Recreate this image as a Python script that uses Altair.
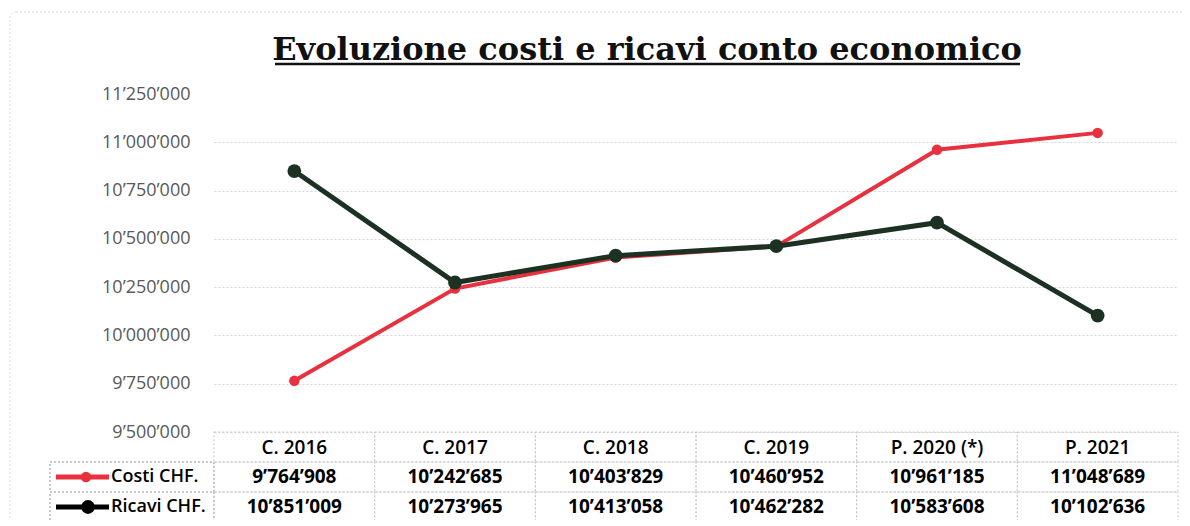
import altair as alt
import pandas as pd

# ---- data ----
categories = ["C. 2016", "C. 2017", "C. 2018", "C. 2019", "P. 2020 (*)", "P. 2021"]
costi = [9764908, 10242685, 10403829, 10460952, 10961185, 11048689]
ricavi = [10851009, 10273965, 10413058, 10462282, 10583608, 10102636]
series_names = ["Costi CHF.", "Ricavi CHF."]
y_ticks = [9500000, 9750000, 10000000, 10250000, 10500000, 10750000, 11000000, 11250000]
title_text = "Evoluzione costi e ricavi conto economico"

RED = "#e8313e"
DARK = "#1d3123"
W, H = 964, 338


def fmt(v):
    return f"{v:,}".replace(",", "\u2019")


df = pd.DataFrame({
    "cat": categories,
    "costi": costi,
    "ricavi": ricavi,
    "costi_lbl": [fmt(v) for v in costi],
    "ricavi_lbl": [fmt(v) for v in ricavi],
})

xenc = alt.X("cat:N", sort=categories,
             scale=alt.Scale(type="band", domain=categories, paddingInner=0, paddingOuter=0),
             axis=None)
yscale = alt.Scale(domain=[9500000, 11250000], zero=False, nice=False)

base = alt.Chart(df)

grid_axis = alt.Axis(
    values=y_ticks,
    labelExpr="replace(format(datum.value, ','), regexp(',', 'g'), '\u2019')",
    domain=False, ticks=False, title=None,
    labelFont="Open Sans", labelFontSize=18, labelColor="#595959",
    labelPadding=24,
    gridColor={"condition": {"test": "datum.value >= 11250000", "value": "transparent"},
               "value": "#d4d4d4"},
    gridDash=[2, 2], gridWidth=1,
)

costi_line = base.mark_line(color=RED, strokeWidth=4).encode(
    x=xenc, y=alt.Y("costi:Q", scale=yscale, axis=grid_axis))
costi_pts = base.mark_circle(color=RED, size=110, opacity=1).encode(
    x=xenc, y=alt.Y("costi:Q", scale=yscale))
ricavi_line = base.mark_line(color=DARK, strokeWidth=5).encode(
    x=xenc, y=alt.Y("ricavi:Q", scale=yscale))
ricavi_pts = base.mark_circle(color=DARK, size=190, opacity=1).encode(
    x=xenc, y=alt.Y("ricavi:Q", scale=yscale))

# ---- table below the plot ----
ROW_H = 30
rows_top = [H, H + ROW_H, H + 2 * ROW_H]
border = dict(fill="transparent", stroke="#c8c8c8", strokeDash=[2, 2], strokeWidth=1)

cells = []
for i, top in enumerate(rows_top):
    cells.append(base.mark_rect(**border).encode(
        x=xenc, y=alt.value(top), y2=alt.value(top + ROW_H)))
for top in rows_top[1:]:
    cells.append(base.mark_rect(**border).encode(
        x=alt.value(-164), x2=alt.value(0), y=alt.value(top), y2=alt.value(top + ROW_H)))

txt_font = dict(font="Open Sans", fontSize=19, color="#000000", baseline="middle", align="center")
header = base.mark_text(fontWeight=600, **txt_font).encode(
    x=xenc, y=alt.value(H + ROW_H / 2 + 1), text="cat:N")
row_c = base.mark_text(fontWeight="bold", **txt_font).encode(
    x=xenc, y=alt.value(H + ROW_H * 1.5), text="costi_lbl:N")
row_r = base.mark_text(fontWeight="bold", **txt_font).encode(
    x=xenc, y=alt.value(H + ROW_H * 2.5), text="ricavi_lbl:N")

leg_df = pd.DataFrame({"name": series_names})
leg_base = alt.Chart(leg_df)
leg_font = dict(font="Open Sans", fontSize=18, fontWeight=600, color="#000",
                align="left", baseline="middle")
leg_text_c = leg_base.transform_filter(alt.datum.name == series_names[0]).mark_text(
    **leg_font).encode(x=alt.value(-103), y=alt.value(H + ROW_H * 1.5), text="name:N")
leg_text_r = leg_base.transform_filter(alt.datum.name == series_names[1]).mark_text(
    **leg_font).encode(x=alt.value(-103), y=alt.value(H + ROW_H * 2.5), text="name:N")
leg_line_c = leg_base.transform_filter(alt.datum.name == series_names[0]).mark_rule(
    color=RED, strokeWidth=5).encode(
    x=alt.value(-158), x2=alt.value(-105), y=alt.value(H + ROW_H * 1.5))
leg_pt_c = leg_base.transform_filter(alt.datum.name == series_names[0]).mark_circle(
    color=RED, size=110, opacity=1).encode(x=alt.value(-128), y=alt.value(H + ROW_H * 1.5))
leg_line_r = leg_base.transform_filter(alt.datum.name == series_names[1]).mark_rule(
    color="#000", strokeWidth=5).encode(
    x=alt.value(-158), x2=alt.value(-105), y=alt.value(H + ROW_H * 2.5))
leg_pt_r = leg_base.transform_filter(alt.datum.name == series_names[1]).mark_circle(
    color="#000", size=190, opacity=1).encode(x=alt.value(-126), y=alt.value(H + ROW_H * 2.5))

# ---- title with underline and outer frame ----
title_df = pd.DataFrame({"t": [title_text]})
title_base = alt.Chart(title_df)
title_mark = title_base.mark_text(
    font="DejaVu Serif", fontWeight="bold", fontSize=32, color="#111",
    align="center", baseline="alphabetic").encode(
    x=alt.value(433), y=alt.value(-34), text="t:N")
underline = title_base.mark_rule(color="#111", strokeWidth=2.5).encode(
    x=alt.value(61), x2=alt.value(806), y=alt.value(-30))
frame = title_base.mark_rect(fill="transparent", stroke="#d9d9d9",
                             strokeDash=[2, 2], strokeWidth=1, cornerRadius=6).encode(
    x=alt.value(-204), x2=alt.value(1000), y=alt.value(-82), y2=alt.value(H + 110))

chart = alt.layer(
    frame, *cells, header, row_c, row_r,
    leg_line_c, leg_pt_c, leg_line_r, leg_pt_r, leg_text_c, leg_text_r,
    costi_line, costi_pts, ricavi_line, ricavi_pts,
    title_mark, underline,
).properties(
    width=W, height=H,
    background="white",
    autosize=alt.AutoSizeParams(type="none"),
    padding={"left": 206, "top": 86, "right": 4, "bottom": 88},
).configure_view(strokeWidth=0, stroke="transparent")

chart.save("out.html", embed_options={"renderer": "svg", "actions": False})
